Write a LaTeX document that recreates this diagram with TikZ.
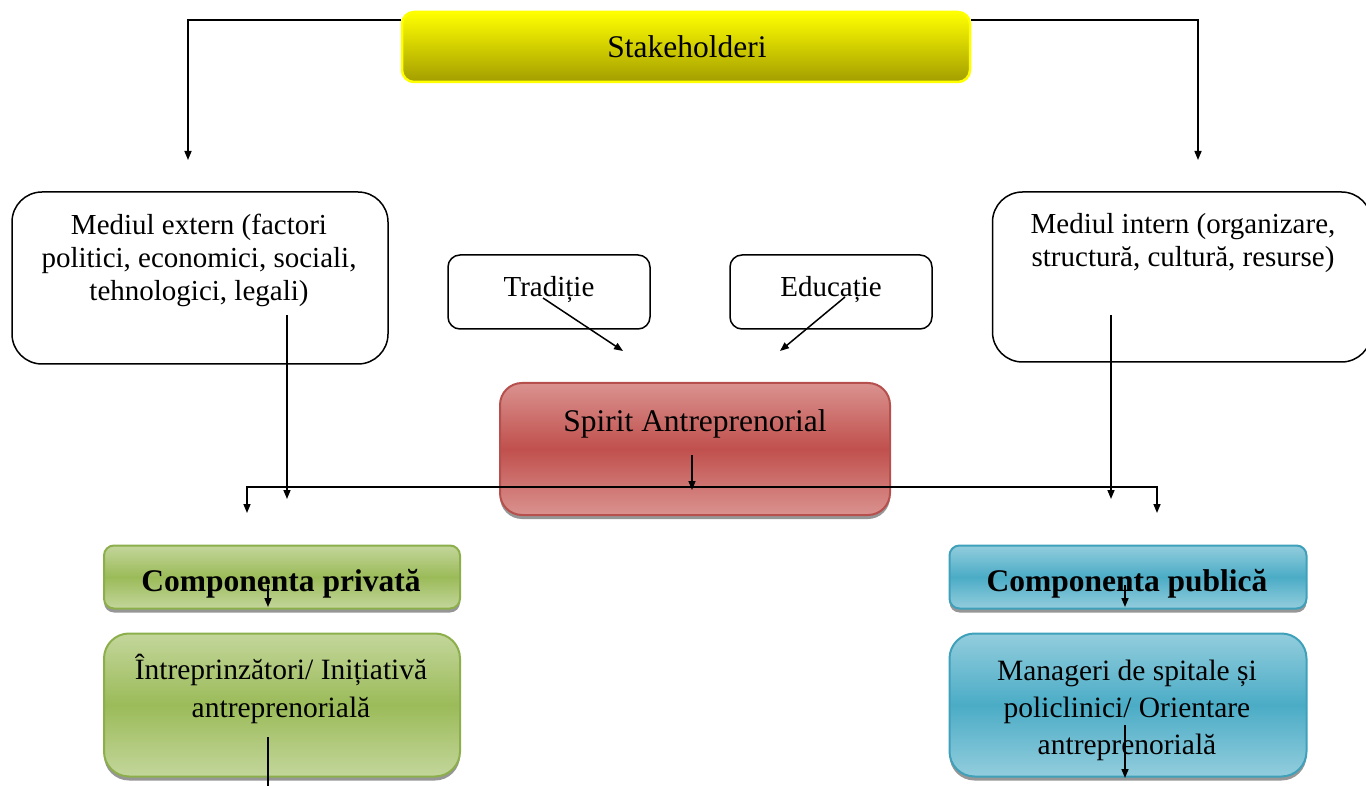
\documentclass[tikz,border=0pt]{standalone}
\usepackage{fontspec}
\setmainfont{Liberation Serif}
\usetikzlibrary{arrows.meta,shadows}
\definecolor{yelTop}{HTML}{FFFF00}
\definecolor{yelBot}{HTML}{A39D00}
\definecolor{redL}{HTML}{DA928F}
\definecolor{redM}{HTML}{C0504D}
\definecolor{redB}{HTML}{B5504D}
\definecolor{grnL}{HTML}{C3D69B}
\definecolor{grnM}{HTML}{9BBB59}
\definecolor{grnB}{HTML}{8CAF4C}
\definecolor{bluL}{HTML}{93CDDD}
\definecolor{bluM}{HTML}{4BACC6}
\definecolor{bluB}{HTML}{3FA0BA}
\begin{document}
\begin{tikzpicture}[x=1pt,y=-1pt,
  plain/.style={draw=black, line width=1.5pt, fill=white, inner sep=0pt},
  shad/.style={drop shadow={shadow xshift=0pt,shadow yshift=-4pt,opacity=0.55,fill=black!75}},
  lbl/.style={font=\fontsize{29}{33}\selectfont, align=center, inner sep=0pt},
  lblbig/.style={font=\fontsize{31.5}{36}\selectfont, align=center, inner sep=0pt},
  lblbold/.style={font=\fontsize{31.5}{36}\selectfont\bfseries, align=center, inner sep=0pt},
  conn/.style={line width=1.5pt, -{Triangle[length=9pt,width=7pt]}},
  bare/.style={line width=1.5pt}]
\useasboundingbox (0,0) rectangle (1366,786);

% boxes
\node[draw=yelTop, line width=2.5pt, rounded corners=12pt, top color=yelTop, bottom color=yelBot,
      minimum width=568pt, minimum height=70pt, inner sep=0pt] (stk) at (686,47) {};
\node[plain, rounded corners=30pt, minimum width=376pt, minimum height=172pt] (ext) at (200,278) {};
\node[plain, rounded corners=30pt, minimum width=379pt, minimum height=170pt] (int) at (1182,277) {};
\node[plain, rounded corners=12pt, minimum width=202pt, minimum height=74pt] (trad) at (549,292) {};
\node[plain, rounded corners=12pt, minimum width=202pt, minimum height=74pt] (edu) at (831,292) {};
\node[shad, draw=redB, line width=2pt, rounded corners=22pt, top color=redL, bottom color=redL, middle color=redM,
      minimum width=390pt, minimum height=132pt, inner sep=0pt] (spirit) at (695,449) {};
\node[shad, draw=grnB, line width=2pt, rounded corners=10pt, top color=grnL, bottom color=grnL, middle color=grnM,
      minimum width=356pt, minimum height=63pt, inner sep=0pt] (priv) at (282,577) {};
\node[shad, draw=grnB, line width=2pt, rounded corners=25pt, top color=grnL, bottom color=grnL, middle color=grnM,
      minimum width=356pt, minimum height=143pt, inner sep=0pt] (intr) at (282,705) {};
\node[shad, draw=bluB, line width=2pt, rounded corners=10pt, top color=bluL, bottom color=bluL, middle color=bluM,
      minimum width=357pt, minimum height=63pt, inner sep=0pt] (pub) at (1128,577) {};
\node[shad, draw=bluB, line width=2pt, rounded corners=25pt, top color=bluL, bottom color=bluL, middle color=bluM,
      minimum width=357pt, minimum height=143pt, inner sep=0pt] (man) at (1128,705) {};

% labels
\node[lblbig] (stkT) at (687,47) {Stakeholderi};
\node[lbl] (extT) at (199,260) {Mediul extern (factori\\politici, economici, sociali,\\tehnologici, legali)};
\node[lbl] (intT) at (1183,243) {Mediul intern (organizare,\\structură, cultură, resurse)};
\node[lbl] (tradT) at (549,290) {Tradiție};
\node[lbl] (eduT) at (831,290) {Educație};
\node[lblbig] (spiritT) at (695,424) {Spirit Antreprenorial};
\node[lblbold] (privT) at (281,584) {Componenta privată};
\node[lbl, font=\fontsize{29.5}{38}\selectfont] (intrT) at (281,689) {Întreprinzători/ Inițiativă\\antreprenorială};
\node[lblbold] (pubT) at (1127,584) {Componenta publică};
\node[lbl, font=\fontsize{29.5}{37}\selectfont] (manT) at (1127,710) {Manageri de spitale și\\policlinici/ Orientare\\antreprenorială};

% connector points
\coordinate (tl) at (188,20);   \coordinate (tlE) at (188,160);
\coordinate (tr) at (1198,20);  \coordinate (trE) at (1198,160);
\coordinate (trA) at (543,298); \coordinate (trB) at (623,351);
\coordinate (edA) at (845,297); \coordinate (edB) at (780,351);
\coordinate (exA) at (287,315); \coordinate (exB) at (287,499);
\coordinate (inA) at (1111,315); \coordinate (inB) at (1111,499);
\coordinate (spA) at (692,455); \coordinate (spB) at (692,490);
\coordinate (busL) at (247,487); \coordinate (busLe) at (247,513);
\coordinate (busR) at (1157,487); \coordinate (busRe) at (1157,513);
\coordinate (pvA) at (268,585); \coordinate (pvB) at (268,607);
\coordinate (pbA) at (1125,585); \coordinate (pbB) at (1125,607);
\coordinate (itA) at (268,737); \coordinate (itB) at (268,796);
\coordinate (mnA) at (1125,725); \coordinate (mnB) at (1125,778);

% connectors
\draw[conn] (stk.west |- tl) -- (tl) -- (tlE);
\draw[conn] (stk.east |- tr) -- (tr) -- (trE);
\draw[conn] (trA) -- (trB);
\draw[conn] (edA) -- (edB);
\draw[conn] (exA) -- (exB);
\draw[conn] (inA) -- (inB);
\draw[conn] (spA) -- (spB);
\draw[line width=1.5pt, {Triangle[length=9pt,width=7pt]}-{Triangle[length=9pt,width=7pt]}] (busLe) -- (busL) -- (busR) -- (busRe);
\draw[conn] (pvA) -- (pvB);
\draw[conn] (pbA) -- (pbB);
\draw[conn] (itA) -- (itB);
\draw[conn] (mnA) -- (mnB);
\end{tikzpicture}
\end{document}
